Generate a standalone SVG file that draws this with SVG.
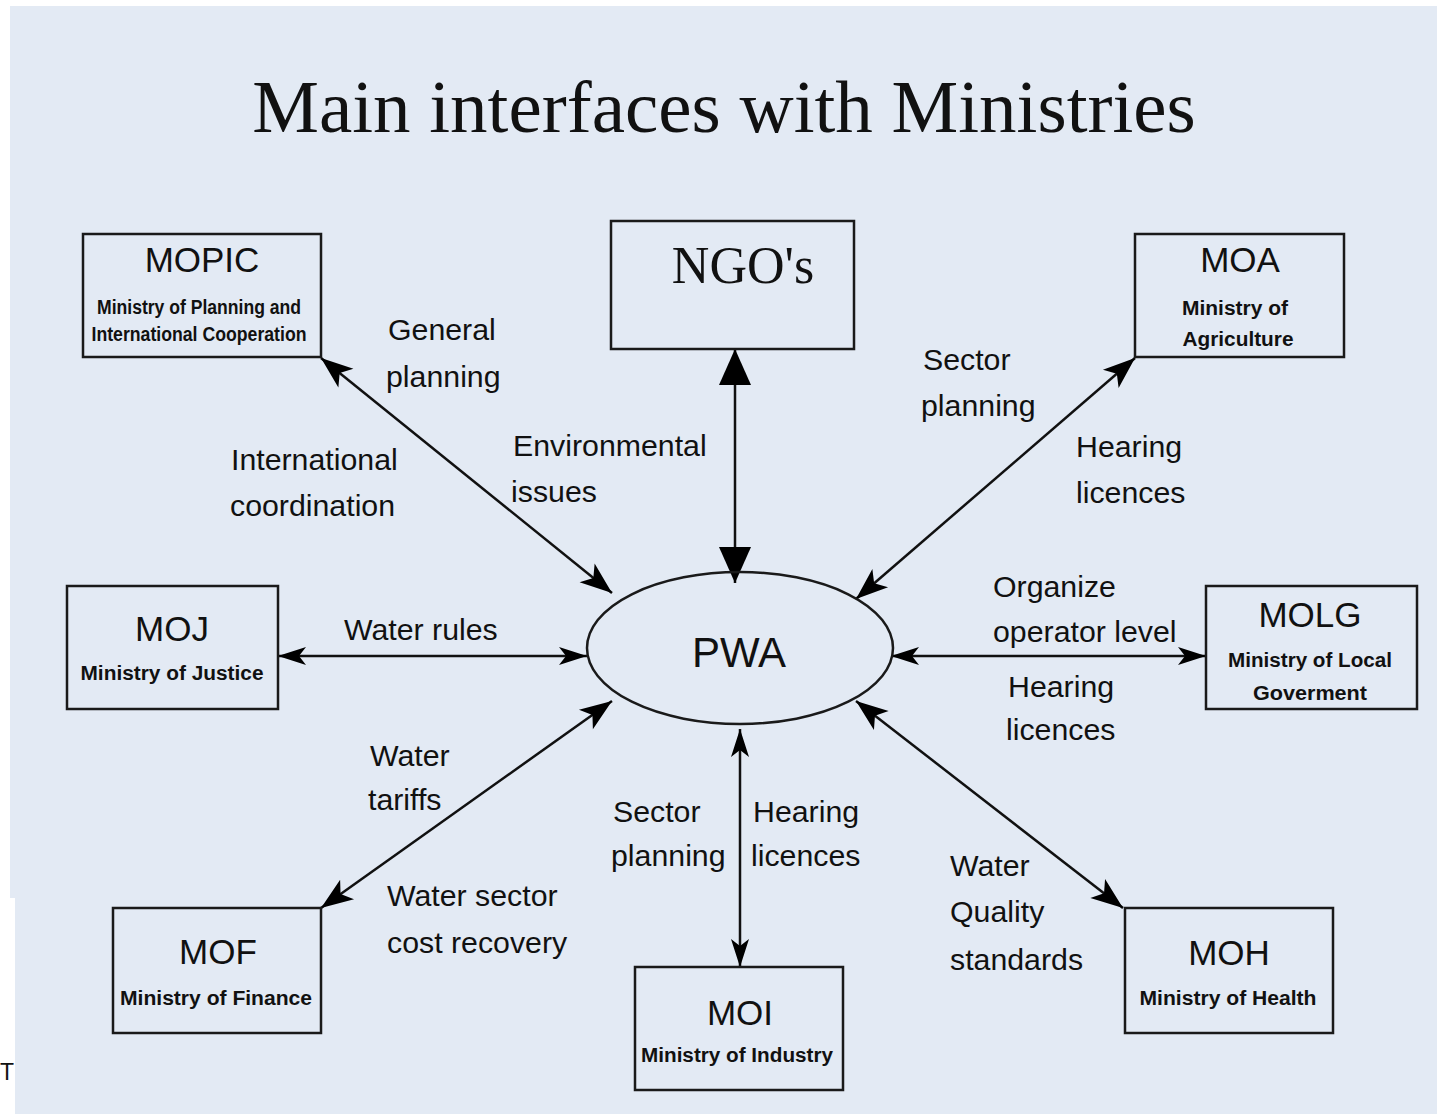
<svg xmlns="http://www.w3.org/2000/svg" width="1437" height="1114" viewBox="0 0 1437 1114">
<style>
.bg{fill:#e3eaf4}
.box{fill:none;stroke:#1a1a1a;stroke-width:2.5}
.ttl{font-family:"Liberation Sans",Arial,sans-serif;font-size:35px;fill:#111;text-anchor:middle}
.sub{font-family:"Liberation Sans",Arial,sans-serif;font-size:20px;font-weight:bold;fill:#111;text-anchor:middle}
.lbl{font-family:"Liberation Sans",Arial,sans-serif;font-size:30.3px;fill:#111}
.con{stroke:#111;stroke-width:2.5;fill:none}
</style>
<defs>
<marker id="ah" markerUnits="userSpaceOnUse" viewBox="-34 -13 36 26" refX="0" refY="0" markerWidth="36" markerHeight="26" orient="auto-start-reverse">
<path d="M0,0 L-32,-12 L-24,0 L-32,12 Z" fill="#000"/>
</marker>
<marker id="ahs" markerUnits="userSpaceOnUse" viewBox="-30 -10 32 20" refX="0" refY="0" markerWidth="32" markerHeight="20" orient="auto-start-reverse">
<path d="M0,0 L-28,-9 L-21,0 L-28,9 Z" fill="#000"/>
</marker>
<marker id="ahb" markerUnits="userSpaceOnUse" viewBox="-38 -17 40 34" refX="0" refY="0" markerWidth="40" markerHeight="34" orient="auto-start-reverse">
<path d="M0,0 L-36,-16 L-36,16 Z" fill="#000"/>
</marker>
</defs>
<rect x="0" y="0" width="1437" height="1114" fill="#ffffff"/>
<rect class="bg" x="10" y="6" width="1427" height="892"/>
<rect class="bg" x="15" y="897" width="1422" height="217"/>
<text x="0" y="1080" font-family="'Liberation Sans',Arial,sans-serif" font-size="23" fill="#111">T</text>
<text x="724" y="132" font-family="'Liberation Serif','Times New Roman',serif" font-size="75" fill="#111" text-anchor="middle">Main interfaces with Ministries</text>

<g id="connectors">
<line class="con" x1="321" y1="358" x2="612" y2="593" marker-start="url(#ah)" marker-end="url(#ah)"/>
<line class="con" x1="735" y1="349" x2="735" y2="583" marker-start="url(#ahb)" marker-end="url(#ahb)"/>
<line class="con" x1="1135" y1="358" x2="856" y2="599" marker-start="url(#ah)" marker-end="url(#ah)"/>
<line class="con" x1="278" y1="656" x2="587" y2="656" marker-start="url(#ahs)" marker-end="url(#ahs)"/>
<line class="con" x1="891" y1="656" x2="1206" y2="656" marker-start="url(#ahs)" marker-end="url(#ahs)"/>
<line class="con" x1="321" y1="908" x2="612" y2="701" marker-start="url(#ah)" marker-end="url(#ah)"/>
<line class="con" x1="740" y1="729" x2="740" y2="967" marker-start="url(#ahs)" marker-end="url(#ahs)"/>
<line class="con" x1="856" y1="701" x2="1123" y2="908" marker-start="url(#ah)" marker-end="url(#ah)"/>
</g>

<g id="PWA">
<ellipse cx="740" cy="648" rx="153" ry="76" fill="none" stroke="#1a1a1a" stroke-width="2.5"/>
<text x="739" y="667" font-family="'Liberation Sans',Arial,sans-serif" font-size="42" fill="#111" text-anchor="middle">PWA</text>
</g>

<g id="MOPIC">
<rect class="box" x="83" y="234" width="238" height="123"/>
<text class="ttl" x="202" y="272">MOPIC</text>
<text class="sub" x="199" y="314" font-size="18" textLength="204" lengthAdjust="spacingAndGlyphs">Ministry of Planning and</text>
<text class="sub" x="199" y="341" font-size="18" textLength="215" lengthAdjust="spacingAndGlyphs">International Cooperation</text>
</g>

<g id="NGOs">
<rect class="box" x="611" y="221" width="243" height="128"/>
<text x="743" y="283" font-family="'Liberation Serif','Times New Roman',serif" font-size="52" fill="#111" text-anchor="middle">NGO's</text>
</g>

<g id="MOA">
<rect class="box" x="1135" y="234" width="209" height="123"/>
<text class="ttl" x="1240" y="272">MOA</text>
<text class="sub" x="1235" y="315" textLength="106" lengthAdjust="spacingAndGlyphs">Ministry of</text>
<text class="sub" x="1238" y="346" textLength="111" lengthAdjust="spacingAndGlyphs">Agriculture</text>
</g>

<g id="MOJ">
<rect class="box" x="67" y="586" width="211" height="123"/>
<text class="ttl" x="172" y="641">MOJ</text>
<text class="sub" x="172" y="680" textLength="183" lengthAdjust="spacingAndGlyphs">Ministry of Justice</text>
</g>

<g id="MOLG">
<rect class="box" x="1206" y="586" width="211" height="123"/>
<text class="ttl" x="1310" y="627">MOLG</text>
<text class="sub" x="1310" y="667" textLength="164" lengthAdjust="spacingAndGlyphs">Ministry of Local</text>
<text class="sub" x="1310" y="700" textLength="114" lengthAdjust="spacingAndGlyphs">Goverment</text>
</g>

<g id="MOF">
<rect class="box" x="113" y="908" width="208" height="125"/>
<text class="ttl" x="218" y="964">MOF</text>
<text class="sub" x="216" y="1005" textLength="192" lengthAdjust="spacingAndGlyphs">Ministry of Finance</text>
</g>

<g id="MOI">
<rect class="box" x="635" y="967" width="208" height="123"/>
<text class="ttl" x="740" y="1025">MOI</text>
<text class="sub" x="737" y="1062" textLength="192" lengthAdjust="spacingAndGlyphs">Ministry of Industry</text>
</g>

<g id="MOH">
<rect class="box" x="1125" y="908" width="208" height="125"/>
<text class="ttl" x="1229" y="965">MOH</text>
<text class="sub" x="1228" y="1005" textLength="177" lengthAdjust="spacingAndGlyphs">Ministry of Health</text>
</g>

<g id="labels">
<text class="lbl" x="388" y="340">General</text>
<text class="lbl" x="386" y="387">planning</text>
<text class="lbl" x="231" y="470">International</text>
<text class="lbl" x="230" y="516">coordination</text>
<text class="lbl" x="513" y="456">Environmental</text>
<text class="lbl" x="511" y="502">issues</text>
<text class="lbl" x="923" y="370">Sector</text>
<text class="lbl" x="921" y="416">planning</text>
<text class="lbl" x="1076" y="457">Hearing</text>
<text class="lbl" x="1076" y="503">licences</text>
<text class="lbl" x="344" y="640">Water rules</text>
<text class="lbl" x="993" y="597">Organize</text>
<text class="lbl" x="993" y="642">operator level</text>
<text class="lbl" x="1008" y="697">Hearing</text>
<text class="lbl" x="1006" y="740">licences</text>
<text class="lbl" x="370" y="766">Water</text>
<text class="lbl" x="368" y="810">tariffs</text>
<text class="lbl" x="387" y="906">Water sector</text>
<text class="lbl" x="387" y="953">cost recovery</text>
<text class="lbl" x="613" y="822">Sector</text>
<text class="lbl" x="611" y="866">planning</text>
<text class="lbl" x="753" y="822">Hearing</text>
<text class="lbl" x="751" y="866">licences</text>
<text class="lbl" x="950" y="876">Water</text>
<text class="lbl" x="950" y="922">Quality</text>
<text class="lbl" x="950" y="970">standards</text>
</g>
</svg>
